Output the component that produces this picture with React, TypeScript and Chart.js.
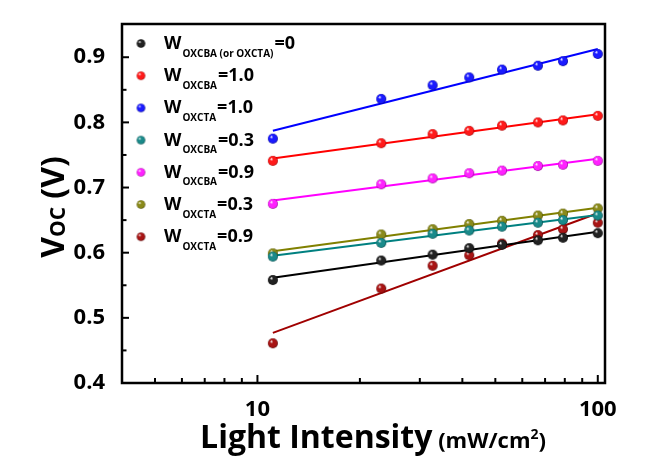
import React, { useEffect, useRef } from 'react';
import { Chart, registerables } from 'chart.js';

Chart.register(...registerables);

// ---------- data ----------
const intensity = [11.1, 23.1, 32.7, 41.9, 52.3, 66.7, 79, 100];
const vocW0 = [0.558, 0.588, 0.597, 0.607, 0.612, 0.619, 0.623, 0.63];
const vocOxcba10 = [0.741, 0.768, 0.782, 0.787, 0.795, 0.8, 0.803, 0.81];
const vocOxcta10 = [0.775, 0.836, 0.857, 0.869, 0.881, 0.887, 0.894, 0.905];
const vocOxcba03 = [0.594, 0.615, 0.629, 0.634, 0.64, 0.646, 0.65, 0.657];
const vocOxcba09 = [0.675, 0.705, 0.714, 0.722, 0.726, 0.733, 0.735, 0.741];
const vocOxcta03 = [0.599, 0.628, 0.636, 0.644, 0.649, 0.657, 0.66, 0.668];
const vocOxcta09 = [0.461, 0.545, 0.58, 0.596, 0.614, 0.627, 0.636, 0.646];

const seriesValues = [vocW0, vocOxcba10, vocOxcta10, vocOxcba03, vocOxcba09, vocOxcta03, vocOxcta09];
const seriesSub = ['OXCBA (or OXCTA)', 'OXCBA', 'OXCTA', 'OXCBA', 'OXCBA', 'OXCTA', 'OXCTA'];
const seriesVal = ['=0', '=1.0', '=1.0', '=0.3', '=0.9', '=0.3', '=0.9'];

const yMajorTicks = [0.4, 0.5, 0.6, 0.7, 0.8, 0.9];
const yMinorTicks = [0.45, 0.55, 0.65, 0.75, 0.85];
const xMajorTicks = [10, 100];
const xMinorTicks = [4, 5, 6, 7, 8, 9, 20, 30, 40, 50, 60, 70, 80, 90];

// ---------- styles ----------
const lineColors = ['#000000', '#ff0000', '#0000ff', '#008080', '#ff00ff', '#808000', '#a00000'];
const ballColors = ['#222222', '#ff1a1a', '#1a1aff', '#1a8a8a', '#ff22ff', '#8a8a1a', '#a81414'];
const ballEdges = ['#000000', '#a00000', '#000090', '#004848', '#900090', '#484800', '#500000'];
const FONT = '"Open Sans", "DejaVu Sans", sans-serif';

function makeBall(color: string, edge: string, r: number): HTMLCanvasElement {
  const c = document.createElement('canvas');
  const s = Math.ceil(2 * r + 2);
  c.width = s;
  c.height = s;
  const g = c.getContext('2d')!;
  const cx = s / 2;
  const cy = s / 2;
  const grad = g.createRadialGradient(cx - r * 0.35, cy - r * 0.4, r * 0.05, cx, cy, r);
  grad.addColorStop(0, '#ffffff');
  grad.addColorStop(0.3, color);
  grad.addColorStop(0.8, color);
  grad.addColorStop(1, edge);
  g.fillStyle = grad;
  g.beginPath();
  g.arc(cx, cy, r, 0, Math.PI * 2);
  g.fill();
  return c;
}

function fitLog(xs: number[], ys: number[]) {
  const n = xs.length;
  const lx = xs.map((v) => Math.log10(v));
  const mx = lx.reduce((a, b) => a + b, 0) / n;
  const my = ys.reduce((a, b) => a + b, 0) / n;
  let sxy = 0;
  let sxx = 0;
  for (let i = 0; i < n; i++) {
    sxy += (lx[i] - mx) * (ys[i] - my);
    sxx += (lx[i] - mx) * (lx[i] - mx);
  }
  const k = sxy / sxx;
  const b = my - k * mx;
  return [
    { x: xs[0], y: b + k * lx[0] },
    { x: xs[n - 1], y: b + k * lx[n - 1] },
  ];
}

export default function App() {
  const ref = useRef<HTMLCanvasElement>(null);

  useEffect(() => {
    if (!ref.current) return;
    const pointBalls = ballColors.map((c, i) => makeBall(c, ballEdges[i], 5));
    const legendBalls = ballColors.map((c, i) => makeBall(c, ballEdges[i], 4.3));

    const datasets: any[] = [];
    seriesValues.forEach((vals, i) => {
      datasets.push({
        type: 'scatter',
        data: intensity.map((x, j) => ({ x, y: vals[j] })),
        pointStyle: pointBalls[i],
        pointRadius: 5,
        showLine: false,
        order: 0,
      });
    });
    seriesValues.forEach((vals, i) => {
      datasets.push({
        type: 'line',
        data: fitLog(intensity, vals),
        borderColor: lineColors[i],
        borderWidth: 2,
        pointRadius: 0,
        fill: false,
        order: 1,
      });
    });

    const decor = {
      id: 'decor',
      afterDraw(chart: any) {
        const ctx = chart.ctx as CanvasRenderingContext2D;
        const { left, right, top, bottom } = chart.chartArea;
        const xs = chart.scales.x;
        const ys = chart.scales.y;
        ctx.save();
        ctx.strokeStyle = '#000';
        ctx.lineWidth = 2;
        // y ticks (inward)
        const tick = (x1: number, y1: number, x2: number, y2: number) => {
          ctx.beginPath();
          ctx.moveTo(x1, y1);
          ctx.lineTo(x2, y2);
          ctx.stroke();
        };
        yMajorTicks.forEach((v) => {
          const y = ys.getPixelForValue(v);
          tick(left, y, left + 7, y);
        });
        yMinorTicks.forEach((v) => {
          const y = ys.getPixelForValue(v);
          tick(left, y, left + 4.5, y);
        });
        xMajorTicks.forEach((v) => {
          const x = xs.getPixelForValue(v);
          tick(x, bottom, x, bottom - 8);
        });
        xMinorTicks.forEach((v) => {
          const x = xs.getPixelForValue(v);
          tick(x, bottom, x, bottom - 5);
        });
        // frame
        ctx.lineWidth = 2.5;
        ctx.strokeRect(left, top, right - left, bottom - top);

        // legend
        ctx.fillStyle = '#000';
        ctx.textAlign = 'left';
        ctx.textBaseline = 'alphabetic';
        const legX = 141;
        const legY0 = 43.5;
        const legDy = 32.2;
        const textX = 164;
        seriesSub.forEach((sub, i) => {
          const y = legY0 + i * legDy;
          const img = legendBalls[i];
          ctx.drawImage(img, legX - img.width / 2, y - img.height / 2);
          ctx.font = `bold 18px ${FONT}`;
          ctx.fillText('W', textX, y + 5.5);
          const w1 = ctx.measureText('W').width;
          ctx.font = `bold 10px ${FONT}`;
          ctx.fillText(sub, textX + w1 + 1, y + 13);
          const w2 = ctx.measureText(sub).width;
          ctx.font = `bold 18px ${FONT}`;
          ctx.fillText(seriesVal[i], textX + w1 + w2 + 2, y + 5.5);
        });

        // x title
        const main = 'Light Intensity';
        const unitA = ' (mW/cm';
        const sup = '2';
        const unitB = ')';
        ctx.font = `bold 32px ${FONT}`;
        const wm = ctx.measureText(main).width;
        ctx.font = `bold 22px ${FONT}`;
        const wa = ctx.measureText(unitA).width;
        const wb = ctx.measureText(unitB).width;
        ctx.font = `bold 14px ${FONT}`;
        const ws = ctx.measureText(sup).width;
        const total = wm + wa + ws + wb;
        let tx = 373 - total / 2;
        const by = 448;
        ctx.font = `bold 32px ${FONT}`;
        ctx.fillText(main, tx, by);
        tx += wm;
        ctx.font = `bold 22px ${FONT}`;
        ctx.fillText(unitA, tx, by);
        tx += wa;
        ctx.font = `bold 14px ${FONT}`;
        ctx.fillText(sup, tx, by - 9);
        tx += ws;
        ctx.font = `bold 22px ${FONT}`;
        ctx.fillText(unitB, tx, by);

        // y title
        ctx.translate(64, 207);
        ctx.rotate(-Math.PI / 2);
        const p1 = 'V';
        const p2 = 'OC';
        const p3 = ' (V)';
        ctx.font = `bold 32px ${FONT}`;
        const w1 = ctx.measureText(p1).width;
        const w3 = ctx.measureText(p3).width;
        ctx.font = `bold 21px ${FONT}`;
        const w2 = ctx.measureText(p2).width;
        let ty = -(w1 + w2 + w3) / 2;
        ctx.font = `bold 32px ${FONT}`;
        ctx.fillText(p1, ty, 0);
        ty += w1;
        ctx.font = `bold 21px ${FONT}`;
        ctx.fillText(p2, ty, 1);
        ty += w2;
        ctx.font = `bold 32px ${FONT}`;
        ctx.fillText(p3, ty, 0);
        ctx.restore();
      },
    };

    const chart = new Chart(ref.current, {
      type: 'scatter',
      data: { datasets },
      options: {
        animation: false,
        responsive: false,
        layout: { padding: { top: 24, right: 56, left: 0, bottom: 0 } },
        plugins: { legend: { display: false }, tooltip: { enabled: false } },
        scales: {
          x: {
            type: 'logarithmic',
            min: 4,
            max: 105,
            grid: { display: false },
            border: { display: false },
            afterBuildTicks: (scale: any) => {
              scale.ticks = [...xMinorTicks, ...xMajorTicks]
                .sort((a, b) => a - b)
                .map((v) => ({ value: v }));
            },
            afterFit: (scale: any) => {
              scale.height = 80;
            },
            ticks: {
              autoSkip: false,
              maxRotation: 0,
              padding: 6,
              color: '#000',
              font: { family: FONT, size: 22, weight: 'bold' },
              callback: (v: any) => (xMajorTicks.includes(Number(v)) ? String(v) : ''),
            },
          },
          y: {
            min: 0.4,
            max: 0.951,
            grid: { display: false },
            border: { display: false },
            afterBuildTicks: (scale: any) => {
              scale.ticks = [...yMajorTicks, ...yMinorTicks]
                .sort((a, b) => a - b)
                .map((v) => ({ value: v }));
            },
            afterFit: (scale: any) => {
              scale.width = 122;
            },
            ticks: {
              autoSkip: false,
              padding: 9,
              color: '#000',
              font: { family: FONT, size: 22, weight: 'bold' },
              callback: (v: any) =>
                yMajorTicks.some((t) => Math.abs(t - Number(v)) < 1e-6) ? Number(v).toFixed(1) : '',
            },
          },
        },
      },
      plugins: [decor],
    } as any);

    return () => chart.destroy();
  }, []);

  return (
    <div style={{ position: 'fixed', left: 0, top: 0, width: 661, height: 463, background: '#fff' }}>
      <canvas ref={ref} width={661} height={463} style={{ display: 'block' }} />
    </div>
  );
}
